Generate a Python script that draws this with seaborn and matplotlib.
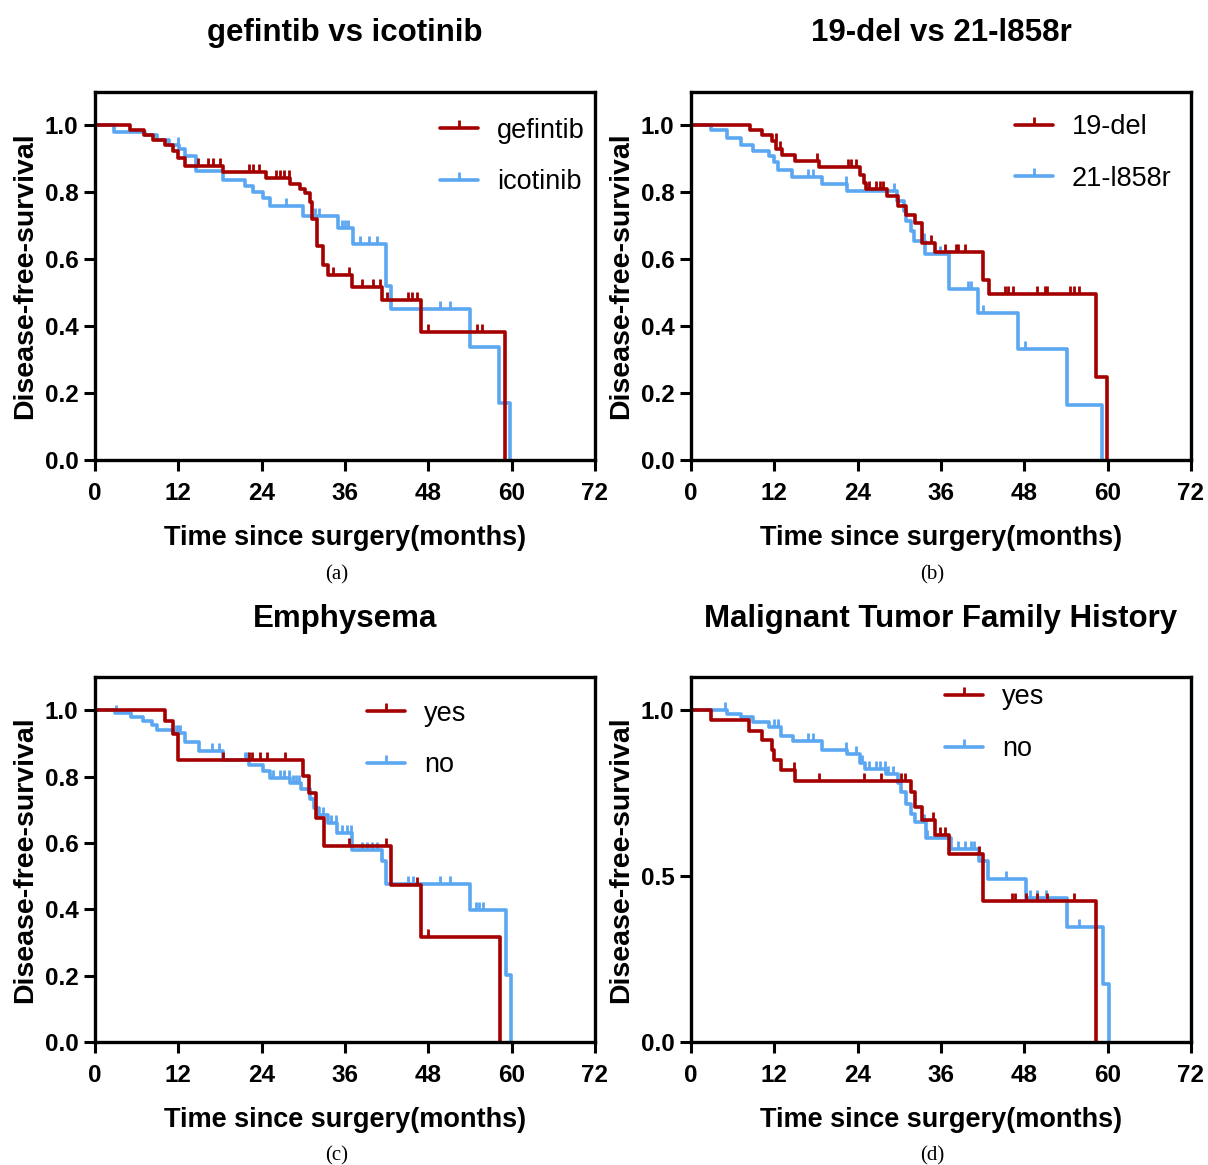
import numpy as np
import matplotlib
matplotlib.use("Agg")
import matplotlib.pyplot as plt
import seaborn as sns
from matplotlib.path import Path
from matplotlib.lines import Line2D

# ---- data ----
# (a) gefitinib vs icotinib
gef_t = [0, 5.0, 7.0, 8.3, 10.1, 11.3, 11.9, 12.9, 18.4, 24.6, 28.1, 29.5, 30.2, 31.0, 31.3,
         32.0, 32.9, 33.6, 37.0, 41.3, 46.9, 59.0]
gef_s = [1.0, 0.986, 0.971, 0.956, 0.941, 0.923, 0.903, 0.878, 0.861, 0.843, 0.826, 0.810, 0.798,
         0.770, 0.719, 0.639, 0.582, 0.552, 0.517, 0.479, 0.382, 0.0]
gef_cens = [14.9, 16.2, 17.0, 18.0, 22.2, 22.8, 23.6, 26.0, 26.7, 27.2, 27.9, 34.3, 36.6, 38.4,
            40.1, 41.0, 42.0, 45.1, 45.6, 46.3, 47.9, 55.0, 55.7]
ico_t = [0, 2.7, 7.2, 8.9, 10.6, 12.1, 12.9, 14.6, 18.5, 21.6, 22.8, 24.2, 25.2, 30.0, 35.0,
         37.1, 41.9, 42.6, 54.0, 58.2, 59.8]
ico_s = [1.0, 0.981, 0.971, 0.956, 0.941, 0.931, 0.908, 0.863, 0.838, 0.818, 0.800, 0.783, 0.758,
         0.729, 0.694, 0.647, 0.519, 0.451, 0.339, 0.170, 0.0]
ico_cens = [12.0, 27.5, 31.7, 32.2, 35.5, 36.0, 36.5, 38.2, 39.4, 40.6, 49.7, 51.1]

# (b) 19-del vs 21-l858r
del_t = [0, 8.5, 10.2, 11.6, 12.3, 13.1, 15.0, 18.4, 24.4, 24.9, 25.2, 28.2, 29.8, 31.0, 32.2,
         33.2, 35.2, 42.0, 42.9, 58.3, 59.9]
del_s = [1.0, 0.986, 0.971, 0.953, 0.930, 0.913, 0.895, 0.876, 0.853, 0.828, 0.811, 0.788, 0.760,
         0.733, 0.707, 0.649, 0.622, 0.539, 0.497, 0.249, 0.0]
del_cens = [12.2, 12.8, 18.2, 22.6, 23.1, 23.8, 25.7, 26.7, 27.2, 27.6, 34.6, 36.6, 38.2, 38.5,
            39.5, 45.2, 45.7, 46.4, 49.8, 51.0, 51.2, 54.6, 55.2, 55.8]
l858_t = [0, 2.9, 5.2, 7.2, 8.9, 11.3, 11.9, 12.6, 14.5, 18.8, 22.4, 29.6, 30.6, 31.0, 31.7,
          32.1, 33.7, 37.1, 41.3, 47.1, 54.1, 59.2]
l858_s = [1.0, 0.986, 0.963, 0.943, 0.925, 0.910, 0.890, 0.868, 0.846, 0.825, 0.803, 0.773, 0.743,
          0.714, 0.684, 0.654, 0.616, 0.512, 0.439, 0.331, 0.165, 0.0]
l858_cens = [16.9, 17.6, 22.3, 25.4, 29.3, 33.5, 35.8, 39.9, 40.3, 42.0, 48.1]

# (c) emphysema
emp_yes_t = [0, 10.1, 11.2, 11.9, 30.0, 30.8, 31.8, 33.0, 42.6, 46.9, 58.3]
emp_yes_s = [1.0, 0.966, 0.927, 0.851, 0.803, 0.750, 0.674, 0.590, 0.472, 0.315, 0.0]
emp_yes_cens = [18.4, 22.2, 22.6, 23.8, 24.7, 27.3, 36.6, 41.9, 46.4, 47.9]
emp_no_t = [0, 2.9, 5.2, 6.9, 8.2, 8.9, 11.3, 12.9, 15.0, 18.5, 22.2, 24.2, 25.2, 28.1, 29.6,
            31.0, 31.6, 32.2, 33.6, 34.9, 37.0, 41.3, 41.9, 54.0, 59.2, 59.9]
emp_no_s = [1.0, 0.993, 0.978, 0.966, 0.954, 0.940, 0.930, 0.905, 0.876, 0.849, 0.836, 0.816,
            0.796, 0.781, 0.761, 0.731, 0.706, 0.683, 0.661, 0.630, 0.580, 0.545, 0.477, 0.399,
            0.202, 0.0]
emp_no_cens = [3.0, 11.6, 12.0, 12.3, 16.9, 17.8, 21.6, 21.9, 25.7, 26.7, 27.2, 27.9, 28.5, 29.0,
               29.4, 32.9, 34.0, 34.7, 35.6, 36.3, 36.8, 38.4, 39.1, 39.9, 40.6, 45.1, 45.8,
               49.7, 51.1, 54.8, 55.3, 55.9]

# (d) malignant tumor family history
fam_yes_t = [0, 2.9, 8.4, 10.2, 11.6, 11.9, 12.9, 15.0, 31.7, 32.3, 33.2, 35.1, 37.1, 42.0, 58.3]
fam_yes_s = [1.0, 0.971, 0.937, 0.910, 0.879, 0.849, 0.819, 0.787, 0.752, 0.707, 0.670, 0.625,
             0.568, 0.424, 0.0]
fam_yes_cens = [14.9, 18.5, 24.9, 27.4, 30.3, 30.8, 34.9, 35.8, 36.6, 41.5, 46.2, 46.7, 48.2,
                49.8, 51.2, 55.2]
fam_no_t = [0, 5.2, 7.2, 8.9, 11.3, 12.9, 14.7, 18.8, 22.4, 24.3, 25.0, 28.1, 29.8, 30.3, 31.0,
            31.7, 32.2, 33.8, 37.4, 41.4, 42.8, 48.3, 54.1, 59.3, 60.2]
fam_no_s = [1.0, 0.988, 0.978, 0.963, 0.948, 0.923, 0.908, 0.879, 0.867, 0.842, 0.822, 0.809,
            0.781, 0.752, 0.716, 0.686, 0.663, 0.616, 0.583, 0.545, 0.492, 0.434, 0.346, 0.174, 0.0]
fam_no_cens = [4.9, 12.0, 12.6, 16.9, 17.6, 22.3, 23.7, 24.6, 25.7, 26.7, 27.2, 28.0, 28.4, 29.1,
               33.5, 34.0, 38.4, 39.5, 40.3, 40.8, 45.4, 48.8, 49.8, 51.1, 55.9]

titles = ["gefintib vs icotinib", "19-del vs 21-l858r", "Emphysema",
          "Malignant Tumor Family History"]
captions = ["(a)", "(b)", "(c)", "(d)"]
labels = [("gefintib", "icotinib"), ("19-del", "21-l858r"), ("yes", "no"), ("yes", "no")]
curves = [
    [(gef_t, gef_s, gef_cens), (ico_t, ico_s, ico_cens)],
    [(del_t, del_s, del_cens), (l858_t, l858_s, l858_cens)],
    [(emp_yes_t, emp_yes_s, emp_yes_cens), (emp_no_t, emp_no_s, emp_no_cens)],
    [(fam_yes_t, fam_yes_s, fam_yes_cens), (fam_no_t, fam_no_s, fam_no_cens)],
]
x_ticks = [0, 12, 24, 36, 48, 60, 72]
y_ticks_std = [0.0, 0.2, 0.4, 0.6, 0.8, 1.0]
y_ticks_d = [0.0, 0.5, 1.0]

RED = "#A50000"
BLUE = "#5BA7F2"

sns.set_style("ticks")
plt.rcParams['font.family'] = ['Liberation Sans', 'DejaVu Sans']
plt.rcParams.update({'text.color': 'black', 'axes.labelcolor': 'black',
                     'xtick.color': 'black', 'ytick.color': 'black'})

# censor tick: short vertical line going up from the curve
tick = Path([(0, 0), (0, 1)])

W, H = 1208, 1165
fig = plt.figure(figsize=(W / 100, H / 100), dpi=100)

# axes boxes in pixels: left, top, right, bottom
boxes = [(95, 92, 595, 460), (691, 92, 1191, 460),
         (95, 677, 595, 1042), (691, 677, 1191, 1042)]
legend_anchor = [(0.69, 0.93), (0.648, 0.94), (0.544, 0.935), (0.508, 0.98)]


def step_at(t, s, c):
    idx = np.searchsorted(np.asarray(t), np.asarray(c), side='right') - 1
    return np.asarray(s)[idx]


for i, (l, t, r, b) in enumerate(boxes):
    ax = fig.add_axes([l / W, 1 - b / H, (r - l) / W, (b - t) / H])
    # blue first so the red curve sits on top, as in the original
    for (tt, ss, cc), col in reversed(list(zip(curves[i], [RED, BLUE]))):
        sns.lineplot(x=tt, y=ss, ax=ax, color=col, lw=2.6, drawstyle='steps-post',
                     estimator=None, sort=False, legend=False)
        ax.plot(cc, step_at(tt, ss, cc), ls='none', marker=tick, ms=11, mew=2.0, color=col)
    ax.set_xlim(0, 72)
    ax.set_ylim(0, 1.1)
    ax.set_xticks(x_ticks)
    yt = y_ticks_d if i == 3 else y_ticks_std
    ax.set_yticks(yt)
    ax.set_yticklabels([f"{v:.1f}" for v in yt])
    ax.tick_params(axis='x', direction='out', length=8, width=2.2, labelsize=17.5, pad=8)
    ax.tick_params(axis='y', direction='out', length=8, width=2.2, labelsize=17.5, pad=4)
    for lab in ax.get_xticklabels() + ax.get_yticklabels():
        lab.set_fontweight('bold')
    for sp in ax.spines.values():
        sp.set_linewidth(2.4)
        sp.set_color('black')
    ax.set_xlabel("Time since surgery(months)", fontsize=19.5, fontweight='bold', labelpad=14)
    ax.set_ylabel("Disease-free-survival", fontsize=20.5, fontweight='bold', labelpad=5)

    handles = [Line2D([0], [0], color=c, lw=2.6, marker=tick, ms=11, mew=2.0) for c in (RED, BLUE)]
    ax.legend(handles, labels[i], loc='upper left', bbox_to_anchor=legend_anchor[i],
              frameon=False, fontsize=19.5, handlelength=1.4, handletextpad=0.7,
              labelspacing=0.95, borderpad=0, borderaxespad=0, numpoints=1)

    cx = (l + r) / 2
    fig.text(cx / W, 1 - (33 if i < 2 else 619) / H, titles[i], ha='center', va='center',
             fontsize=22.5, fontweight='bold')
    fig.text(cx / W - 0.007, 1 - (575 if i < 2 else 1156) / H, captions[i],
             ha='center', va='center', fontsize=15, family=['Liberation Serif', 'DejaVu Serif'])

fig.savefig("out.png", dpi=100)
